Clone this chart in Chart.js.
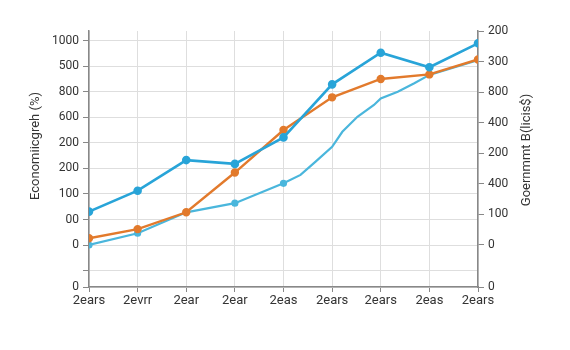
<!DOCTYPE html>
<html>
<head>
<meta charset="utf-8">
<script src="https://cdn.jsdelivr.net/npm/chart.js@4"></script>
<style>
  html, body { margin: 0; padding: 0; background: #fff; }
  #wrap { width: 570px; height: 350px; }
</style>
</head>
<body>
<div id="wrap"><canvas id="chart" width="570" height="350"></canvas></div>
<script>
const years = ["2ears", "2evrr", "2ear", "2ear", "2eas", "2ears", "2ears", "2eas", "2ears"];

// left axis, in gridline steps
const leftTicks = [-1.647, -1, 0, 1, 2, 3, 4, 5, 6, 7, 8];
const leftLabels = ["0", "", "0", "00", "100", "200", "200", "600", "800", "500", "1000"];
// right axis
const rightTicks = [-1.374, 0, 1, 2, 3, 4, 5, 6, 7];
const rightLabels = ["0", "0", "100", "400", "200", "400", "800", "300", "200"];

const growthMain = [1.31, 2.13, 3.33, 3.18, 4.22, 6.30, 7.54, 6.97, 7.91];
const debtValues = [0.22, 0.52, 1.07, 2.37, 3.76, 4.83, 5.43, 5.58, 6.07];
const trendX = [0, 1, 2, 3, 4, 4.35, 4.66, 5, 5.21, 5.52, 5.86, 6, 6.35, 6.69, 7, 8];
const trendY = [0, 0.46, 1.28, 1.64, 2.42, 2.75, 3.27, 3.85, 4.44, 5.03, 5.49, 5.75, 6.01, 6.34, 6.67, 7.25];

const font = { family: "Roboto", size: 12 };

const titles = {
  id: "titles",
  afterDraw(chart) {
    const ctx = chart.ctx;
    ctx.save();
    ctx.fillStyle = "#333";
    ctx.font = "13px Roboto";
    ctx.textAlign = "center";
    ctx.textBaseline = "middle";
    ctx.translate(36, 146);
    ctx.rotate(-Math.PI / 2);
    ctx.fillText("Economiicgreh (%)", 0, 0);
    ctx.restore();
    ctx.save();
    ctx.fillStyle = "#333";
    ctx.font = "13px Roboto";
    ctx.textAlign = "center";
    ctx.textBaseline = "middle";
    ctx.translate(527, 150);
    ctx.rotate(-Math.PI / 2);
    ctx.fillText("Goernmmt B(licis$)", 0, 0);
    ctx.restore();
  }
};

new Chart(document.getElementById("chart"), {
  type: "line",
  data: {
    datasets: [
      {
        label: "main",
        data: growthMain.map((v, i) => ({ x: i, y: v })),
        borderColor: "#28a4d8",
        backgroundColor: "#28a4d8",
        borderWidth: 2.6,
        pointRadius: 3,
        yAxisID: "y"
      },
      {
        label: "debt",
        data: debtValues.map((v, i) => ({ x: i, y: v })),
        borderColor: "#e27a2c",
        backgroundColor: "#e27a2c",
        borderWidth: 2.4,
        pointRadius: 3,
        yAxisID: "y1"
      },
      {
        label: "trend",
        data: trendX.map((x, i) => ({ x: x, y: trendY[i] })),
        borderColor: "#4ab6dc",
        backgroundColor: "#4ab6dc",
        borderWidth: 2.2,
        pointRadius: ctx => {
          const x = ctx.raw ? ctx.raw.x : 0;
          return Number.isInteger(x) && x <= 4 ? 2.5 : 0;
        },
        yAxisID: "y"
      }
    ]
  },
  options: {
    responsive: false,
    animation: false,
    layout: { padding: { top: 31, bottom: 0, left: 0, right: 0 } },
    plugins: { legend: { display: false }, tooltip: { enabled: false } },
    scales: {
      x: {
        type: "linear",
        min: 0,
        max: 8,
        afterBuildTicks: s => { s.ticks = years.map((_, i) => ({ value: i })); },
        afterFit: s => { s.height = 63; },
        ticks: { callback: v => years[v], color: "#333", font: { family: "Roboto", size: 13 }, padding: 1, maxRotation: 0, autoSkip: false },
        grid: { color: "#dedede", tickLength: 5, tickColor: "#888" },
        border: { color: "#888", width: 1.5 }
      },
      y: {
        position: "left",
        min: leftTicks[0],
        max: 8.392,
        afterBuildTicks: s => { s.ticks = leftTicks.map(v => ({ value: v })); },
        afterFit: s => { s.width = 89; },
        ticks: { callback: (v, i) => leftLabels[i], color: "#333", font: font, padding: 4, autoSkip: false },
        grid: { color: "#dedede", tickLength: 6, tickColor: "#888" },
        border: { color: "#888", width: 1.5 }
      },
      y1: {
        position: "right",
        min: rightTicks[0],
        max: 7,
        afterBuildTicks: s => { s.ticks = rightTicks.map(v => ({ value: v })); },
        afterFit: s => { s.width = 92; },
        ticks: { callback: (v, i) => rightLabels[i], color: "#333", font: font, padding: 4, autoSkip: false },
        grid: { drawOnChartArea: false, tickLength: 6, tickColor: "#888" },
        border: { color: "#888", width: 1.5 }
      }
    }
  },
  plugins: [titles]
});
</script>
</body>
</html>
